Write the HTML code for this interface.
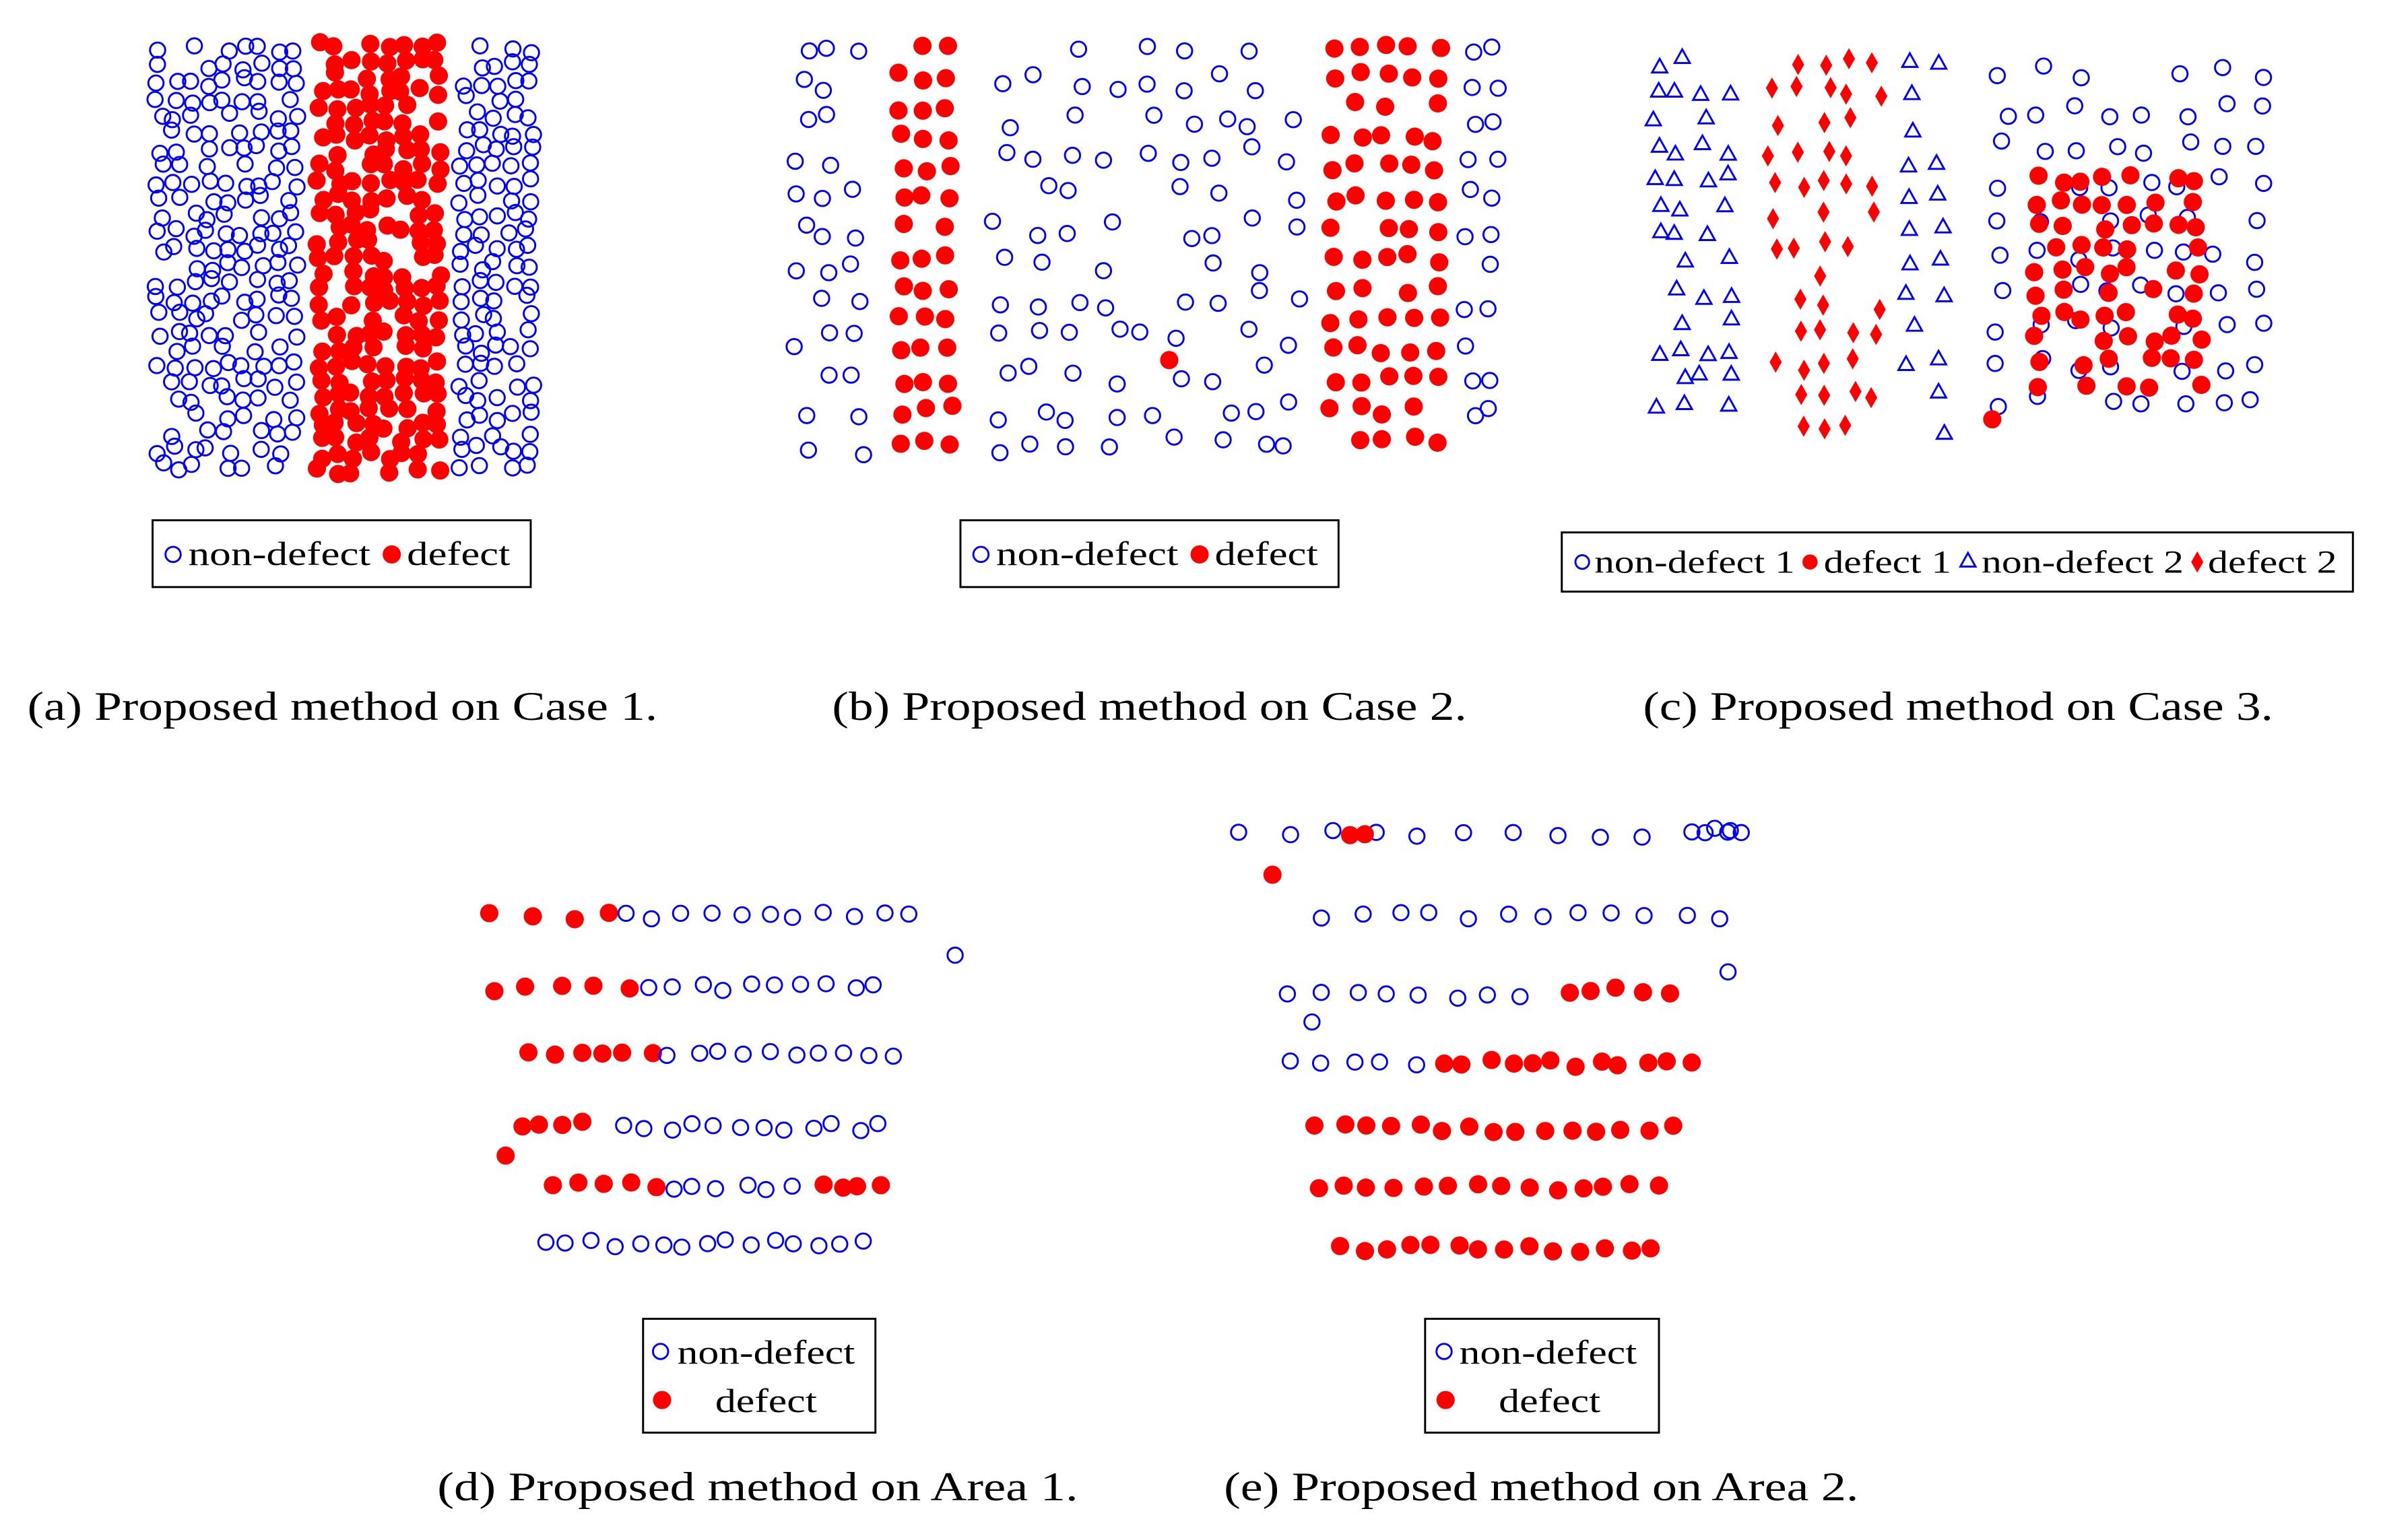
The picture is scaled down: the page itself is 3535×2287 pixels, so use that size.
<!DOCTYPE html>
<html><head><meta charset="utf-8"><style>
html,body{margin:0;padding:0;background:#fff;}
svg{display:block;}
text{font-family:"Liberation Serif",serif;fill:#000;}
</style></head><body>
<svg id="s" width="3535" height="2287" viewBox="0 0 1568 1014" xmlns="http://www.w3.org/2000/svg">
<g id="pts"></g>
<rect x="100.5" y="342.5" width="249" height="44" fill="none" stroke="#000" stroke-width="1.3"/>
<circle cx="114" cy="365" r="5" fill="none" stroke="#0000ff" stroke-width="1.3"/>
<text x="124" y="372" font-size="22" textLength="120" lengthAdjust="spacingAndGlyphs">non-defect</text>
<circle cx="258" cy="365" r="6" fill="#ff0000"/>
<text x="268" y="372" font-size="22" textLength="68" lengthAdjust="spacingAndGlyphs">defect</text>

<rect x="632.5" y="342.5" width="249" height="44" fill="none" stroke="#000" stroke-width="1.3"/>
<circle cx="646" cy="365" r="5" fill="none" stroke="#0000ff" stroke-width="1.3"/>
<text x="656" y="372" font-size="22" textLength="120" lengthAdjust="spacingAndGlyphs">non-defect</text>
<circle cx="790" cy="365" r="6" fill="#ff0000"/>
<text x="800" y="372" font-size="22" textLength="68" lengthAdjust="spacingAndGlyphs">defect</text>

<rect x="1028.5" y="350.5" width="521" height="39" fill="none" stroke="#000" stroke-width="1.3"/>
<circle cx="1042" cy="370" r="4.5" fill="none" stroke="#0000ff" stroke-width="1.3"/>
<text x="1050" y="377" font-size="21" textLength="132" lengthAdjust="spacingAndGlyphs">non-defect 1</text>
<circle cx="1192" cy="370" r="5" fill="#ff0000"/>
<text x="1201" y="377" font-size="21" textLength="84" lengthAdjust="spacingAndGlyphs">defect 1</text>
<polygon points="1296,364 1291,373 1301,373" fill="none" stroke="#0000ff" stroke-width="1.3"/>
<text x="1305" y="377" font-size="21" textLength="133" lengthAdjust="spacingAndGlyphs">non-defect 2</text>
<polygon points="1447,363 1451,370 1447,377 1443,370" fill="#ff0000"/>
<text x="1454" y="377" font-size="21" textLength="85" lengthAdjust="spacingAndGlyphs">defect 2</text>

<rect x="423.5" y="868.5" width="153" height="75" fill="none" stroke="#000" stroke-width="1.3"/>
<circle cx="435" cy="890" r="5" fill="none" stroke="#0000ff" stroke-width="1.3"/>
<text x="446" y="898" font-size="22" textLength="117" lengthAdjust="spacingAndGlyphs">non-defect</text>
<circle cx="436" cy="922" r="6" fill="#ff0000"/>
<text x="471" y="930" font-size="22" textLength="67" lengthAdjust="spacingAndGlyphs">defect</text>

<rect x="938.5" y="868.5" width="154" height="75" fill="none" stroke="#000" stroke-width="1.3"/>
<circle cx="951" cy="890" r="5" fill="none" stroke="#0000ff" stroke-width="1.3"/>
<text x="961" y="898" font-size="22" textLength="117" lengthAdjust="spacingAndGlyphs">non-defect</text>
<circle cx="952" cy="922" r="6" fill="#ff0000"/>
<text x="987" y="930" font-size="22" textLength="67" lengthAdjust="spacingAndGlyphs">defect</text>

<text x="18" y="474" font-size="27" textLength="415" lengthAdjust="spacingAndGlyphs">(a)  Proposed method on Case 1.</text>
<text x="548" y="474" font-size="27" textLength="418" lengthAdjust="spacingAndGlyphs">(b)  Proposed method on Case 2.</text>
<text x="1082" y="474" font-size="27" textLength="415" lengthAdjust="spacingAndGlyphs">(c)  Proposed method on Case 3.</text>
<text x="288" y="988" font-size="27" textLength="422" lengthAdjust="spacingAndGlyphs">(d)  Proposed method on Area 1.</text>
<text x="806" y="988" font-size="27" textLength="418" lengthAdjust="spacingAndGlyphs">(e)  Proposed method on Area 2.</text>
</svg>
<script>
var seed=12345;function rnd(){seed=(seed*1103515245+12345)%2147483648;return seed/2147483648;}
var g=document.getElementById('pts'),out='';
function pt(x,y,t){
 if(t=='b')out+='<circle cx="'+x.toFixed(1)+'" cy="'+y.toFixed(1)+'" r="5" fill="none" stroke="#0000ff" stroke-width="1.3"/>';
 else if(t=='r')out+='<circle cx="'+x.toFixed(1)+'" cy="'+y.toFixed(1)+'" r="6" fill="#ff0000"/>';
 else if(t=='t')out+='<polygon points="'+x+','+(y-5)+' '+(x-5)+','+(y+4)+' '+(x+5)+','+(y+4)+'" fill="none" stroke="#0000ff" stroke-width="1.3"/>';
 else if(t=='d')out+='<polygon points="'+x+','+(y-7)+' '+(x+4)+','+y+' '+x+','+(y+7)+' '+(x-4)+','+y+'" fill="#ff0000"/>';
}
function grid(x0,x1,y0,y1,dx,dy,t,j,p){
 for(var y=y0;y<=y1;y+=dy)for(var x=x0;x<=x1;x+=dx){if(rnd()<(p||1))pt(x+(rnd()-.5)*j,y+(rnd()-.5)*j,t);}
}
function row(x0,x1,y,n,t){for(var i=0;i<n;i++)pt(x0+(x1-x0)*(n>1?i/(n-1):0)+(rnd()-.5)*6,y+(rnd()-.5)*5,t);}
grid(105,200,32,312,11,11,'b',6,0.8);
grid(305,355,32,312,11,11,'b',6,0.85);
grid(211,296,30,314,11,10,'r',5,0.85);
grid(528,570,32,300,18,24,'b',10,0.85);
grid(593,640,30,295,16,20,'r',6,0.95);
grid(660,860,30,300,24,24,'b',14,0.8);
grid(878,952,30,292,17,20,'r',6,0.95);
grid(968,990,32,285,15,24,'b',8,0.9);
pt(770,237,'r');
grid(1090,1140,40,275,16,19,'t',8,0.85);
grid(1168,1242,40,280,17,20,'d',8,0.85);
grid(1258,1282,40,282,20,22,'t',6,0.9);
grid(1318,1500,48,268,24,24,'b',10,0.8);
grid(1342,1452,118,255,15,15,'r',6,0.85);
pt(1312,276,'r');
row(325,402,603,4,'r');row(410,600,603,11,'b');pt(629,629,'b');
row(325,412,651,5,'r');row(428,578,650,10,'b');
row(350,428,694,6,'r');row(442,586,694,10,'b');
row(342,385,741,4,'r');pt(333,761,'r');row(410,580,742,12,'b');
row(365,430,780,5,'r');row(442,522,782,6,'b');row(540,578,782,4,'r');
row(360,568,819,15,'b');
row(818,1112,549,11,'b');row(1125,1148,547,5,'b');row(890,900,549,2,'r');pt(838,576,'r');
row(873,1132,603,12,'b');pt(1138,640,'b');
row(850,1000,655,8,'b');pt(864,673,'b');row(1032,1100,652,5,'r');
row(852,930,699,5,'b');row(950,1112,700,12,'r');
row(868,1100,743,15,'r');
row(868,1092,782,14,'r');
row(880,1088,822,14,'r');
g.innerHTML=out;
</script>
</body></html>
